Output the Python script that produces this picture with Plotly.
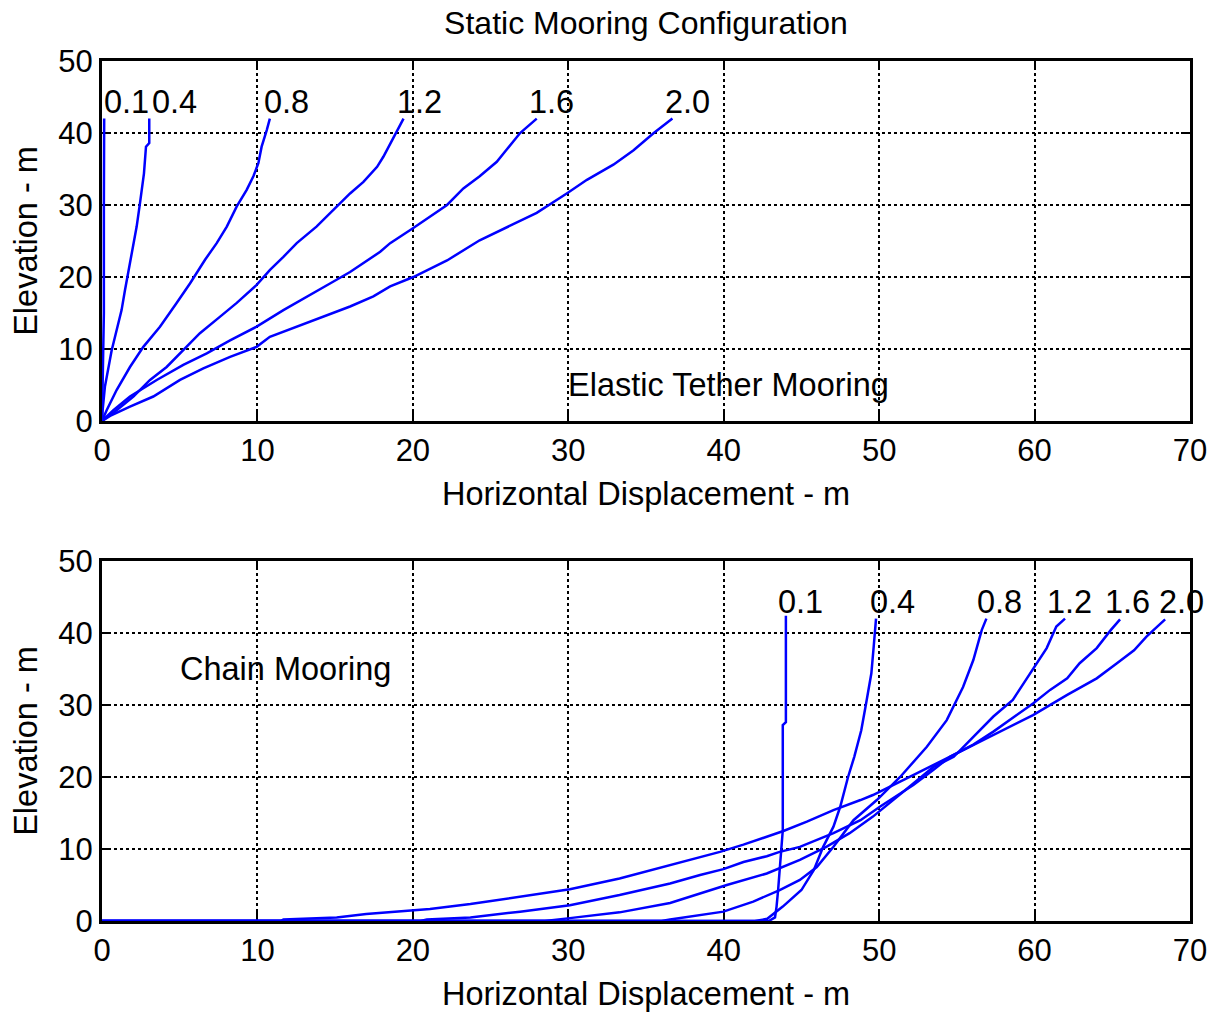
import plotly.graph_objects as go
from plotly.subplots import make_subplots

# current speeds (m/s) used as curve labels
speeds = ['0.1', '0.4', '0.8', '1.2', '1.6', '2.0']

# elastic tether mooring profiles (horizontal displacement, elevation)
tether_x = [
    [0, 0.05, 0.12, 0.12, 0.14],
    [0, 0.04, 0.19, 0.41, 0.62, 0.94, 1.26, 1.48, 1.76, 2.02, 2.23, 2.44, 2.56, 2.70, 2.83, 3.04, 3.04],
    [0, 0.30, 0.94, 1.80, 2.66, 3.73, 4.80, 5.66, 6.63, 7.38, 8.03, 8.67, 9.31, 9.74, 10.06, 10.27, 10.6, 10.8],
    [0, 0.94, 2.02, 3.09, 4.16, 5.23, 6.3, 7.6, 8.67, 9.95, 10.81, 11.67, 12.53, 13.8, 15.1, 15.96, 16.82, 17.7, 18.1, 18.85, 19.4],
    [0, 0.73, 1.8, 3.52, 5.23, 6.74, 8.24, 9.95, 11.67, 13.17, 14.67, 15.96, 17.25, 17.9, 18.54, 20.03, 22.2, 23.25, 24.3, 25.4, 26.0, 26.9, 27.97],
    [0, 0.52, 1.8, 3.3, 5.02, 6.52, 8.24, 9.95, 10.8, 12.53, 14.24, 15.96, 17.46, 18.54, 20.03, 22.2, 24.3, 26.5, 27.97, 29.9, 31.2, 32.9, 34.2, 35.5, 36.7],
]
tether_y = [
    [0, 8, 15, 30, 42],
    [0, 1.5, 4.8, 7.5, 9.8, 12.6, 15.4, 18.2, 21.4, 24.2, 27.0, 30.2, 32.5, 34.4, 38.1, 38.6, 42.0],
    [0, 1.5, 4.3, 7.5, 10.3, 13.1, 16.4, 19.1, 22.4, 24.7, 27.0, 29.8, 32.1, 34.0, 35.8, 38.1, 40.4, 42.0],
    [0, 1.5, 3.4, 5.7, 7.5, 9.8, 12.2, 14.5, 16.4, 18.9, 21.0, 22.8, 24.7, 27.0, 29.8, 31.6, 33.2, 35.3, 36.7, 39.7, 42.0],
    [0, 1.5, 3.4, 5.7, 7.8, 9.4, 11.2, 13.1, 15.4, 17.3, 19.1, 20.7, 22.6, 23.5, 24.7, 26.8, 30.0, 32.3, 34.0, 36.0, 37.6, 40.0, 42.0],
    [0, 0.7, 2.0, 3.4, 5.7, 7.3, 8.9, 10.3, 11.7, 13.1, 14.5, 15.9, 17.3, 18.7, 20.0, 22.3, 25.1, 27.4, 28.9, 31.6, 33.5, 35.6, 37.6, 40.0, 42.0],
]
tether_label_x = [0.1, 3.2, 10.4, 19.0, 27.5, 36.2]

# chain mooring profiles
chain_x = [
    [0, 42.9, 43.3, 43.4, 43.5, 43.7, 43.8, 43.8, 44.0, 44.0],
    [0, 42.0, 42.8, 43.8, 45.0, 45.8, 46.4, 47.06, 47.5, 48.0, 48.4, 48.85, 49.16, 49.5, 49.65, 49.8],
    [0, 36.0, 36.55, 38.48, 39.98, 41.9, 43.6, 44.9, 45.99, 47.06, 48.35, 49.85, 51.35, 53.07, 54.35, 55.4, 56.06, 56.6, 56.9],
    [0, 28.5, 30.1, 33.3, 36.55, 38.48, 40.2, 42.77, 44.9, 46.6, 48.1, 49.6, 50.9, 52.2, 53.5, 54.8, 56.06, 57.35, 58.6, 59.9, 60.78, 61.4, 61.96],
    [0, 20.5, 20.9, 23.7, 26.9, 30.1, 33.3, 36.55, 38.48, 39.98, 41.27, 42.77, 43.6, 44.9, 47.06, 48.8, 50.07, 51.35, 52.2, 53.5, 54.55, 56.06, 57.35, 58.85, 59.9, 61.0, 62.1, 62.9, 64.0, 64.9, 65.5],
    [0, 11.5, 11.67, 15.1, 17.0, 19.2, 21.1, 23.7, 26.9, 30.1, 33.3, 36.55, 39.76, 41.27, 42.77, 43.84, 45.35, 47.06, 48.8, 49.6, 51.35, 53.5, 55.6, 57.8, 59.9, 62.1, 64.0, 65.3, 66.4, 67.2, 68.4],
]
chain_y = [
    [0, 0, 0.5, 2.0, 4.3, 9.9, 12.6, 27.2, 27.6, 42.4],
    [0, 0, 0.3, 2.0, 4.3, 7.1, 10.3, 13.1, 15.9, 20.0, 22.8, 26.5, 30.2, 34.4, 38.1, 42.0],
    [0, 0, 0.2, 0.8, 1.3, 2.7, 4.3, 5.7, 7.5, 10.3, 14.0, 16.8, 20.0, 24.2, 27.9, 32.5, 36.25, 40.4, 42.0],
    [0, 0, 0.4, 1.2, 2.5, 3.8, 5.0, 6.6, 8.5, 10.3, 12.2, 14.5, 16.8, 19.1, 21.4, 22.8, 25.6, 28.4, 30.7, 34.9, 37.9, 40.9, 42.0],
    [0, 0, 0.2, 0.5, 1.3, 2.2, 3.6, 5.2, 6.4, 7.2, 8.2, 9.0, 9.6, 10.3, 12.2, 14.0, 15.9, 17.7, 18.9, 21.0, 22.8, 24.5, 26.3, 28.6, 30.2, 32.1, 33.7, 35.8, 37.9, 40.4, 41.9],
    [0, 0, 0.2, 0.5, 0.97, 1.4, 1.67, 2.36, 3.4, 4.4, 5.9, 7.8, 9.6, 10.6, 11.7, 12.5, 13.8, 15.4, 16.8, 17.5, 19.35, 21.7, 24.0, 26.3, 28.6, 31.4, 33.7, 35.8, 37.6, 39.5, 41.9],
]
chain_label_x = [43.5, 49.4, 56.3, 60.8, 64.5, 68.0]

FONT = 'Liberation Sans, Arial, sans-serif'
TXT = 32.5

fig = make_subplots(rows=2, cols=1)

for i, s in enumerate(speeds):
    fig.add_trace(go.Scatter(x=tether_x[i], y=tether_y[i], mode='lines',
                             line=dict(color='#0000ff', width=2.5),
                             cliponaxis=False, showlegend=False), row=1, col=1)
    fig.add_annotation(x=tether_label_x[i], y=44.3, text=s, xref='x', yref='y',
                       xanchor='left', yanchor='middle', xshift=-2, showarrow=False,
                       font=dict(size=TXT, color='black', family=FONT))

for i, s in enumerate(speeds):
    fig.add_trace(go.Scatter(x=chain_x[i], y=chain_y[i], mode='lines',
                             line=dict(color='#0000ff', width=2.5),
                             cliponaxis=False, showlegend=False), row=2, col=1)
    fig.add_annotation(x=chain_label_x[i], y=44.3, text=s, xref='x2', yref='y2',
                       xanchor='left', yanchor='middle', xshift=-2, showarrow=False,
                       font=dict(size=TXT, color='black', family=FONT))

fig.add_annotation(x=30, y=5, xref='x', yref='y', text='Elastic Tether Mooring',
                   xanchor='left', yanchor='middle', showarrow=False, xshift=-2,
                   font=dict(size=TXT, color='black', family=FONT))
fig.add_annotation(x=5, y=35, xref='x2', yref='y2', text='Chain Mooring',
                   xanchor='left', yanchor='middle', showarrow=False, xshift=-2,
                   font=dict(size=TXT, color='black', family=FONT))

axis_style = dict(showline=True, linewidth=3, linecolor='black', mirror='ticks',
                  ticks='inside', ticklen=9, tickwidth=2, tickcolor='black',
                  showgrid=True, gridcolor='black', griddash='dot', gridwidth=1.5,
                  zeroline=False, layer='below traces', automargin=False,
                  tickfont=dict(size=31, color='black', family=FONT))

fig.update_xaxes(axis_style, range=[0, 70], dtick=10,
                 title=dict(text='Horizontal Displacement - m', standoff=16,
                            font=dict(size=TXT, color='black', family=FONT)))
fig.update_yaxes(axis_style, range=[0, 50], dtick=10,
                 title=dict(text='Elevation - m', standoff=15,
                            font=dict(size=TXT, color='black', family=FONT)))

# the page body adds an 8px offset; margins are set so the axes land in place
fig.update_layout(
    width=1220, height=1012,
    margin=dict(l=94, r=38, t=53, b=99),
    plot_bgcolor='white', paper_bgcolor='white',
    title=dict(text='Static Mooring Configuration', x=0.5, xref='paper',
               y=1 - 15 / 1012, yanchor='middle',
               font=dict(size=32, color='black', family=FONT)),
    xaxis=dict(domain=[0, 1]), xaxis2=dict(domain=[0, 1]),
    yaxis=dict(domain=[0.5814, 1]), yaxis2=dict(domain=[0, 0.4186]),
)

fig.write_html("out.html")
